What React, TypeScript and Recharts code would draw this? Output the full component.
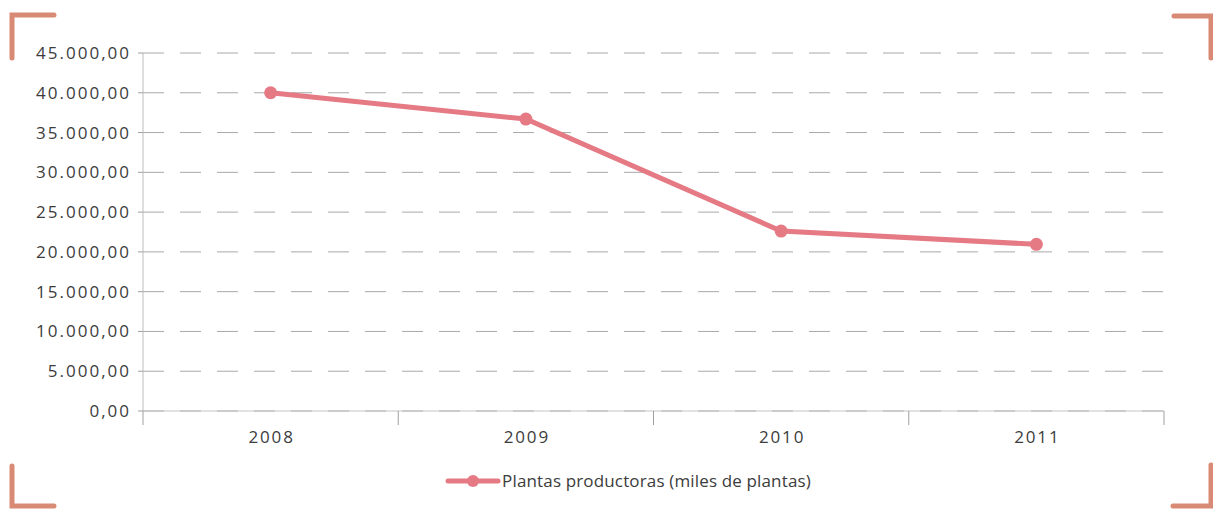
import React from "react";
import {
  LineChart,
  Line,
  XAxis,
  YAxis,
  CartesianGrid,
  Legend,
} from "recharts";

const years = ["2008", "2009", "2010", "2011"];
const plantas = [40000, 36700, 22620, 20950];
const yTicks = [0, 5000, 10000, 15000, 20000, 25000, 30000, 35000, 40000, 45000];
const seriesName = "Plantas productoras (miles de plantas)";

const data = years.map((year, i) => ({ year, pos: i + 0.5, plantas: plantas[i] }));
const xTicks = [0, 0.5, 1, 1.5, 2, 2.5, 3, 3.5, 4];

const LINE = "#e57a85";
const ACCENT = "#d98a74";
const FONT = "'Open Sans', Lato, sans-serif";
const TEXT = "#3c3c3c";

function formatNum(v: number) {
  return new Intl.NumberFormat("de-DE", {
    minimumFractionDigits: 2,
    maximumFractionDigits: 2,
  }).format(v);
}

function XTick(props: any) {
  const { x, y, payload } = props;
  const v = payload.value as number;
  if (Number.isInteger(v)) {
    return <line x1={x} x2={x} y1={y} y2={y + 14} stroke="#a0a0a0" strokeWidth={1} />;
  }
  const label = years[Math.floor(v)];
  return (
    <text x={x + 1} y={y + 32} textAnchor="middle" fontSize={17} fill={TEXT} fontFamily={FONT} letterSpacing={1.8}>
      {label}
    </text>
  );
}

function YTick(props: any) {
  const { x, y, payload } = props;
  return (
    <text x={x + 2} y={y} dy={6} textAnchor="end" fontSize={17} fill={TEXT} fontFamily={FONT} letterSpacing={2}>
      {formatNum(payload.value)}
    </text>
  );
}

function LegendContent() {
  return (
    <div style={{ display: "flex", justifyContent: "center", alignItems: "center", fontFamily: FONT, paddingLeft: 92 }}>
      <svg width={56} height={16} style={{ marginRight: 1 }}>
        <line x1={3} x2={53} y1={8} y2={8} stroke={LINE} strokeWidth={5} strokeLinecap="round" />
        <circle cx={28} cy={8} r={6} fill={LINE} />
      </svg>
      <span style={{ fontSize: 17, color: TEXT, letterSpacing: 0.15 }}>{seriesName}</span>
    </div>
  );
}

function Corners() {
  const s = { stroke: ACCENT, strokeWidth: 5, fill: "none", strokeLinecap: "round" as const, strokeLinejoin: "miter" as const };
  return (
    <svg width={1213} height={511} style={{ position: "absolute", left: 0, top: 0, pointerEvents: "none" }}>
      <path d="M12 58 L12 15 L54 15" {...s} />
      <path d="M12 466 L12 506 L54 506" {...s} />
      <path d="M1174 16 L1211 16 L1211 58" {...s} />
      <path d="M1211 465 L1211 506 L1173 506" {...s} />
    </svg>
  );
}

export default function App() {
  return (
    <div style={{ position: "relative", width: 1213, height: 511, background: "#fff" }}>
      <style>{"body{margin:0}"}</style>
      <LineChart
        width={1213}
        height={511}
        data={data}
        margin={{ top: 53, right: 49, bottom: 12, left: 0 }}
      >
        <CartesianGrid vertical={false} stroke="#a8a8a8" strokeDasharray="21 16" />
        <XAxis
          dataKey="pos"
          type="number"
          domain={[0, 4]}
          ticks={xTicks}
          interval={0}
          tickLine={false}
          tickSize={0}
          tickMargin={0}
          axisLine={{ stroke: "#c4c4c4" }}
          tick={<XTick />}
          height={58}
        />
        <YAxis
          domain={[0, 45000]}
          ticks={yTicks}
          interval={0}
          width={143}
          tickSize={5}
          tickMargin={9}
          axisLine={{ stroke: "#bdbdbd" }}
          tickLine={{ stroke: "#a0a0a0" }}
          tick={<YTick />}
        />
        <Legend verticalAlign="bottom" height={30} content={<LegendContent />} />
        <Line
          dataKey="plantas"
          name={seriesName}
          stroke={LINE}
          strokeWidth={5}
          dot={{ r: 6.5, fill: LINE, stroke: LINE, strokeWidth: 0 }}
          activeDot={false}
          isAnimationActive={false}
        />
      </LineChart>
      <Corners />
    </div>
  );
}
